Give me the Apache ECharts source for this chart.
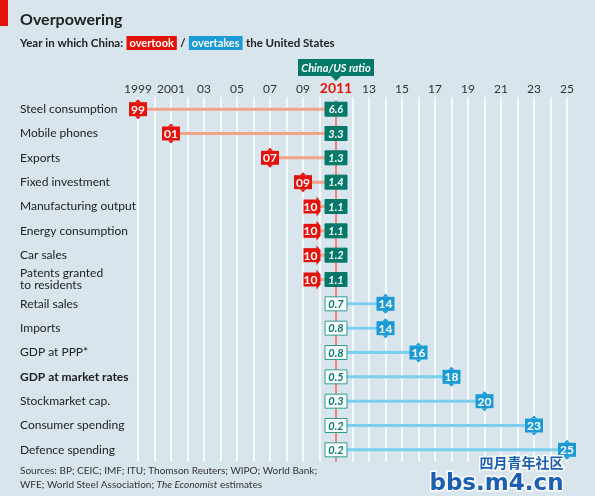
<!DOCTYPE html>
<html><head><meta charset="utf-8">
<script src="https://cdn.jsdelivr.net/npm/echarts@6/dist/echarts.min.js"></script>
<style>html,body{margin:0;padding:0;background:#d8e5ec;}#c{width:595px;height:496px;}</style>
</head><body><div id="c"></div>
<script>
const categories = ["Steel consumption","Mobile phones","Exports","Fixed investment","Manufacturing output","Energy consumption","Car sales","Patents granted\nto residents","Retail sales","Imports","GDP at PPP*","GDP at market rates","Stockmarket cap.","Consumer spending","Defence spending"];
const overtakeYears = [1999,2001,2007,2009,2010,2010,2010,2010,2014,2014,2016,2018,2020,2023,2025];
const ratios = ["6.6","3.3","1.3","1.4","1.1","1.1","1.2","1.1","0.7","0.8","0.8","0.5","0.3","0.2","0.2"];
const currentYear = 2011;
const xMin = 1999, xMax = 2025;

const RED='#e3120b', BLUE='#1b9ad6', TEAL='#00796b', SALMON='#f3a488', LBLUE='#7ccff0';
const FONT='Lato';

const rows = categories.map((c,i)=>[i, overtakeYears[i], ratios[i]]);

function renderRow(params, api){
  const i = api.value(0), yr = api.value(1), ratio = ratios[i];
  const p = api.coord([yr, i]);
  const c = api.coord([currentYear, i]);
  const past = yr <= currentYear;
  const children = [];
  const cy = c[1];
  let mx = p[0];
  if (yr === 2010) mx = p[0]-8;
  children.push({type:'line', shape:{x1:mx, y1:cy, x2:c[0], y2:cy}, style:{stroke: past?SALMON:LBLUE, lineWidth:3}});
  children.push({type:'rect', shape:{x:c[0]-11, y:cy-7, width:22, height:14},
    style:{fill: past?TEAL:'#ffffff', stroke: past?TEAL:'#2a9d8f', lineWidth:1}});
  children.push({type:'text', x:c[0], y:cy+0.5, style:{text:ratio, fill: past?'#ffffff':TEAL,
    font:'italic bold 11px '+FONT, align:'center', verticalAlign:'middle'}});
  const col = past?RED:BLUE;
  const lbl = String(yr).slice(2);
  if (yr === 2010) {
    children.push({type:'rect', shape:{x:mx-8, y:cy-7, width:14, height:14}, style:{fill:col}});
    children.push({type:'polygon', shape:{points:[[mx+5,cy-10],[mx+9,cy-5],[mx+9,cy+5],[mx+5,cy+10]]}, style:{fill:col}});
    children.push({type:'text', x:mx-1, y:cy+0.5, style:{text:lbl, fill:'#fff', font:'bold 12px '+FONT, align:'center', verticalAlign:'middle'}});
  } else {
    children.push({type:'rect', shape:{x:mx-9, y:cy-7, width:18, height:14}, style:{fill:col}});
    children.push({type:'polygon', shape:{points:[[mx-3,cy-7],[mx,cy-10],[mx+3,cy-7]]}, style:{fill:col}});
    children.push({type:'polygon', shape:{points:[[mx-3,cy+7],[mx,cy+10],[mx+3,cy+7]]}, style:{fill:col}});
    children.push({type:'text', x:mx, y:cy+0.5, style:{text:lbl, fill:'#fff', font:'bold 12px '+FONT, align:'center', verticalAlign:'middle'}});
  }
  return {type:'group', children};
}

const chart = echarts.init(document.getElementById('c'), null, {renderer:'canvas'});
chart.setOption({
  backgroundColor:'#d8e5ec',
  animation:false,
  textStyle:{fontFamily:FONT},
  grid:{left:138, right:28, top:97, bottom:34},
  xAxis:{type:'value', position:'top', min:xMin, max:xMax, interval:1,
    axisLine:{show:false}, axisTick:{show:false},
    splitLine:{show:true, lineStyle:{color:'#ffffff', width:1.5}},
    axisLabel:{margin:2, color:'#333', fontSize:12, fontFamily:FONT,
      formatter:function(v){ if((v-1999)%2) return ''; if(v===2011) return '{r|2011}'; if(v<2002) return String(v); return String(v).slice(2);},
      rich:{r:{color:RED, fontWeight:'bold', fontSize:14, fontFamily:FONT}}}},
  yAxis:{type:'category', inverse:true, data:categories,
    axisLine:{show:false}, axisTick:{show:false}, splitLine:{show:false},
    axisLabel:{align:'left', margin:118, color:'#222', fontSize:12, fontFamily:FONT, lineHeight:12,
      formatter:function(v){ return v==='GDP at market rates' ? '{b|'+v+'}' : v; },
      rich:{b:{fontWeight:'bold', fontSize:12, color:'#222', fontFamily:FONT}}}},
  series:[
    {type:'custom', z:2, silent:true, data:[[0]], renderItem:function(params, api){
      const cs = params.coordSys; const x = api.coord([currentYear,0])[0];
      return {type:'line', shape:{x1:x, y1:cs.y+3, x2:x, y2:cs.y+cs.height}, style:{stroke:RED, lineWidth:1}};
    }},
    {type:'custom', z:3, data:rows, encode:{x:1, y:0}, renderItem:renderRow}
  ],
  graphic:[
    {type:'rect', left:0, top:0, shape:{width:8, height:26}, style:{fill:RED}},
    {type:'text', left:20, top:12, style:{text:'Overpowering', font:'bold 16px '+FONT, fill:'#222'}},
    {type:'text', left:20, top:36, style:{
      text:'{a|Year in which China:} {r|overtook} {a|/} {b|overtakes} {a|the United States}',
      rich:{a:{font:'bold 11.5px '+FONT, fill:'#222'},
        r:{font:'bold 11px '+FONT, fill:'#fff', backgroundColor:RED, padding:[2,3,1,3]},
        b:{font:'bold 11px '+FONT, fill:'#fff', backgroundColor:BLUE, padding:[2,3,1,3]}}}},
    {type:'group', children:[
      {type:'rect', shape:{x:298, y:59, width:76, height:17}, style:{fill:TEAL}},
      {type:'polygon', shape:{points:[[331,76],[341,76],[336,81]]}, style:{fill:TEAL}},
      {type:'text', x:336, y:68, style:{text:'China/US ratio', font:'italic bold 11px '+FONT, fill:'#fff', align:'center', verticalAlign:'middle'}}
    ]},
    {type:'text', left:20, top:464, style:{
      text:'Sources: BP; CEIC; IMF; ITU; Thomson Reuters; WIPO; World Bank;\nWFE; World Steel Association; {i|The Economist} estimates',
      font:'10px '+FONT, fill:'#333', lineHeight:14,
      rich:{i:{font:'italic 10px '+FONT, fill:'#333'}}}},
    {type:'text', right:30, top:454, z:100, style:{text:'四月青年社区', font:'bold 14px "Noto Sans CJK SC"', fill:'#1a5fb0', stroke:'#ffffff', lineWidth:3}},
    {type:'text', right:30, top:471, z:100, style:{text:'bbs.m4.cn', font:'bold 23px "DejaVu Sans"', fill:'#1a5fb0', stroke:'#ffffff', lineWidth:3}}
  ]
});
</script></body></html>
